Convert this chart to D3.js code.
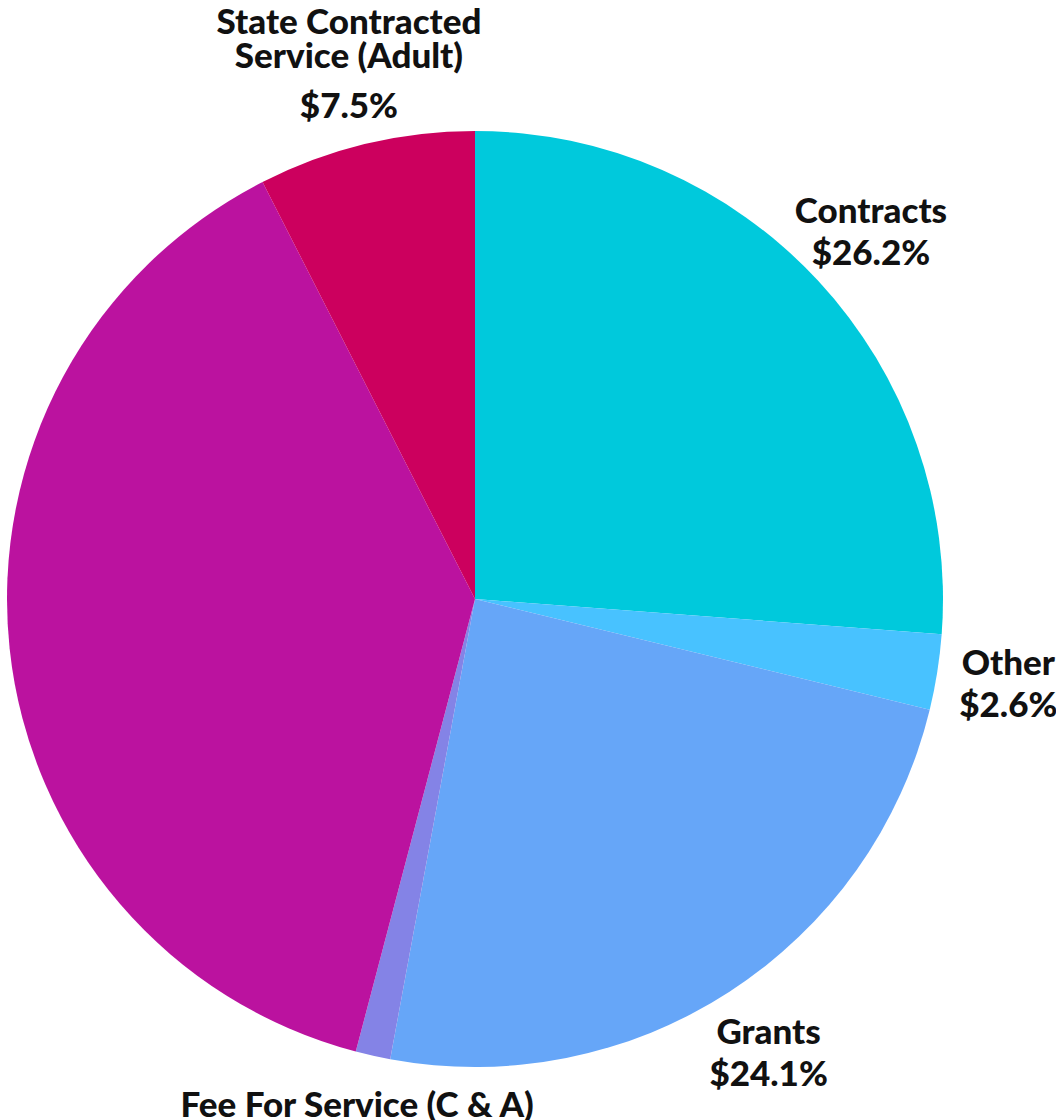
<!DOCTYPE html>
<html>
<head>
<meta charset="utf-8">
<script src="https://cdn.jsdelivr.net/npm/d3@7"></script>
<style>
  html, body { margin: 0; padding: 0; background: #ffffff; }
  svg { display: block; }
  .slice-label { font-family: Lato, "Open Sans", sans-serif; font-weight: 900; font-size: 35px; fill: #111111; }
</style>
</head>
<body>
<svg id="chart" width="1056" height="1120"></svg>
<script>
// Revenue share by source, clockwise from 12 o'clock
const categories = [
  "Contracts",
  "Other",
  "Grants",
  "Fee For Service (C & A)",
  "Fee For Service (Adult)",
  "State Contracted Service (Adult)"
];
const shares = [26.2, 2.6, 24.1, 1.2, 38.4, 7.5];
// Label text is broken into lines where the name is long
const labelLines = [
  ["Contracts"],
  ["Other"],
  ["Grants"],
  ["Fee For Service (C & A)"],
  ["Fee For Service (Adult)"],
  ["State Contracted", "Service (Adult)"]
];
const colors = ["#00c9dc", "#48c2ff", "#66a6f8", "#8483e6", "#bb129f", "#cc005e"];

const width = 1056, height = 1120;
const cx = 475, cy = 599, radius = 468, labelRadius = 540;
const nameLineHeight = 34, valueGap = 42, capHeight = 25;

const data = categories.map((c, i) => ({ name: c, value: shares[i], lines: labelLines[i], color: colors[i] }));

const svg = d3.select("#chart");
const g = svg.append("g").attr("transform", `translate(${cx},${cy})`);

const pie = d3.pie().value(d => d.value).sort(null);
const arc = d3.arc().innerRadius(0).outerRadius(radius);
const labelArc = d3.arc().innerRadius(labelRadius).outerRadius(labelRadius);

const arcs = pie(data);

g.selectAll("path.slice")
  .data(arcs)
  .join("path")
  .attr("class", "slice")
  .attr("d", arc)
  .attr("fill", d => d.data.color);

// Labels sit on a ring outside the pie; skip ones whose anchor lands off the left edge
const labelled = arcs.filter(d => cx + labelArc.centroid(d)[0] > 0);

g.selectAll("text.slice-label")
  .data(labelled)
  .join("text")
  .attr("class", "slice-label")
  .attr("text-anchor", "middle")
  .each(function (d) {
    const [x, y] = labelArc.centroid(d);
    const lines = d.data.lines;
    const extra = (lines.length - 1) * 8;
    // multi-line names are lifted so the name block stays near the ring
    const lift = (lines.length - 1) * 10;
    const blockH = capHeight + (lines.length - 1) * nameLineHeight + valueGap + extra;
    const firstBaseline = y - blockH / 2 + capHeight - lift;
    const t = d3.select(this);
    lines.forEach((ln, i) => {
      t.append("tspan").attr("x", x).attr("y", firstBaseline + i * nameLineHeight).text(ln);
    });
    t.append("tspan")
      .attr("x", x)
      .attr("y", firstBaseline + (lines.length - 1) * nameLineHeight + valueGap + extra)
      .text(`$${d.data.value.toFixed(1)}%`);
  });
</script>
</body>
</html>
